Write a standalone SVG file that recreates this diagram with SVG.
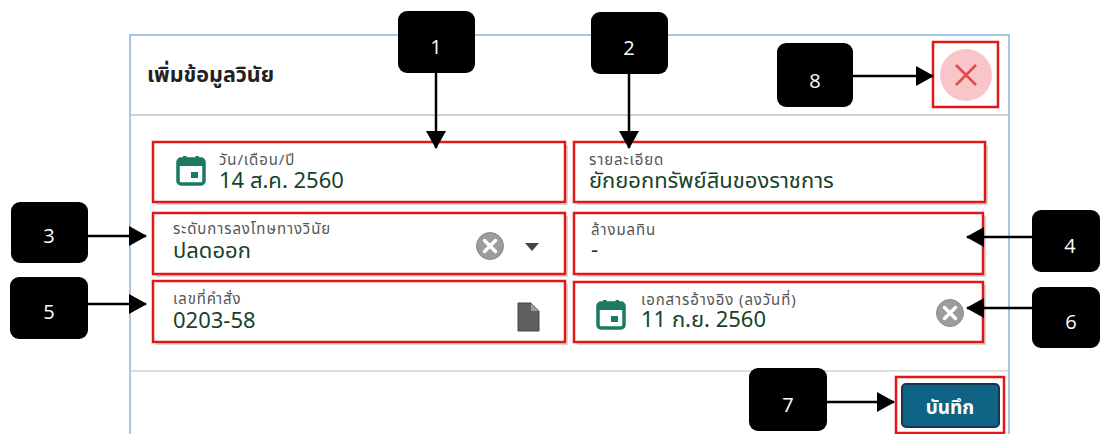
<svg xmlns="http://www.w3.org/2000/svg" width="1102" height="434" viewBox="0 0 1102 434">
<defs>
<style>
.badge{fill:#000}
.btxt{fill:#fff;font-family:"Open Sans","Liberation Sans","DejaVu Sans",sans-serif;font-size:20px;text-anchor:middle}
.field{fill:#fff;stroke:#e01818;stroke-width:2.5}
.shadow{fill:#d6d6d6}
.lbl{fill:#555;font-family:"Noto Sans Thai","Noto Sans","DejaVu Sans",sans-serif;font-size:15px;letter-spacing:0.9px}
.val{fill:#16432a;font-family:"Noto Sans Thai","Noto Sans","DejaVu Sans",sans-serif;font-size:22px}
.conn{stroke:#000;stroke-width:2.5;fill:none;marker-end:url(#ah)}
</style>
<marker id="ah" markerUnits="userSpaceOnUse" markerWidth="18" markerHeight="20" refX="17" refY="10" orient="auto">
<path d="M0,0 L18,10 L0,20 Z" fill="#000"/>
</marker>
<g id="calIcon">
<rect x="0" y="3" width="26" height="25" rx="3" fill="none" stroke="#1c7a62" stroke-width="3.5"/>
<rect x="0" y="3" width="26" height="7" fill="#1c7a62"/>
<rect x="5" y="0" width="3.5" height="6" fill="#1c7a62"/>
<rect x="17.5" y="0" width="3.5" height="6" fill="#1c7a62"/>
<rect x="13" y="16" width="7" height="6" fill="#1c7a62"/>
</g>
<g id="clrIcon">
<circle cx="0" cy="0" r="13.5" fill="#9c9c9c" stroke="#8a8a8a" stroke-width="1"/>
<path d="M-5.5,-5.5 L5.5,5.5 M5.5,-5.5 L-5.5,5.5" stroke="#fff" stroke-width="3.5" stroke-linecap="round"/>
</g>
</defs>
<rect width="1102" height="434" fill="#fff"/>

<g id="dialog">
<path d="M130,434 L130,35 L1009,35 L1009,434" fill="none" stroke="#8cb2da" stroke-width="1.5"/>
<line x1="131" y1="115" x2="1008" y2="115" stroke="#d0d0d0" stroke-width="2"/>
<line x1="131" y1="371" x2="1008" y2="371" stroke="#dedede" stroke-width="2"/>
<text x="147" y="82" font-family="'Noto Sans Thai','Noto Sans','DejaVu Sans',sans-serif" font-size="21.5" font-weight="bold" fill="#222">เพิ่มข้อมูลวินัย</text>
</g>

<g id="field1">
<rect class="shadow" x="156" y="145" width="412" height="60"/>
<rect class="field" x="153" y="142" width="412" height="60"/>
<use href="#calIcon" x="178" y="156"/>
<text class="lbl" x="219" y="165">วัน/เดือน/ปี</text>
<text class="val" x="219" y="188">14 ส.ค. 2560</text>
</g>

<g id="field2">
<rect class="shadow" x="577" y="145" width="411" height="60"/>
<rect class="field" x="574" y="142" width="411" height="60"/>
<text class="lbl" x="589" y="165">รายละเอียด</text>
<text class="val" x="589" y="188">ยักยอกทรัพย์สินของราชการ</text>
</g>

<g id="field3">
<rect class="shadow" x="156" y="216" width="412" height="61"/>
<rect class="field" x="153" y="213" width="412" height="61"/>
<text class="lbl" x="173" y="234">ระดับการลงโทษทางวินัย</text>
<text class="val" x="173" y="258">ปลดออก</text>
<use href="#clrIcon" x="490" y="246"/>
<path d="M525,243 L539,243 L532,251 Z" fill="#444"/>
</g>

<g id="field4">
<rect class="shadow" x="577" y="216" width="409" height="61"/>
<rect class="field" x="574" y="213" width="409" height="61"/>
<text class="lbl" x="591" y="235">ล้างมลทิน</text>
<text class="val" x="591" y="257">-</text>
</g>

<g id="field5">
<rect class="shadow" x="156" y="284" width="412" height="61"/>
<rect class="field" x="153" y="281" width="412" height="61"/>
<text class="lbl" x="173" y="304">เลขที่คำสั่ง</text>
<text class="val" x="173" y="328">0203-58</text>
<path d="M518,303 L531,303 L539,311 L539,331 L518,331 Z" fill="#5f5f5f" stroke="#444" stroke-width="1"/>
<path d="M531,303 L531,311 L539,311" fill="#9a9a9a"/>
</g>

<g id="field6">
<rect class="shadow" x="577" y="285" width="409" height="60"/>
<rect class="field" x="574" y="282" width="409" height="60"/>
<use href="#calIcon" x="598" y="300"/>
<text class="lbl" x="641" y="305">เอกสารอ้างอิง (ลงวันที่)</text>
<text class="val" x="641" y="327">11 ก.ย. 2560</text>
<use href="#clrIcon" x="950" y="313"/>
</g>

<g id="closeBtn">
<rect x="933" y="42" width="65" height="65" fill="none" stroke="#e01818" stroke-width="2.5"/>
<circle cx="966" cy="75" r="26" fill="#f8c6c9"/>
<path d="M956,65 L976,85 M976,65 L956,85" stroke="#e04a4a" stroke-width="2.5"/>
</g>

<g id="saveBtn">
<rect x="896" y="377" width="108" height="56" fill="none" stroke="#e01818" stroke-width="2.5"/>
<rect x="902" y="384" width="97" height="43" rx="4" fill="#0f6486" stroke="#17384a" stroke-width="2"/>
<text x="950" y="414" font-family="'Noto Sans Thai','Noto Sans','DejaVu Sans',sans-serif" font-size="19" font-weight="bold" fill="#fff" text-anchor="middle">บันทึก</text>
</g>

<g id="badge1"><rect class="badge" x="398" y="11" width="77" height="62" rx="9"/><text class="btxt" x="436" y="54">1</text></g>
<g id="badge2"><rect class="badge" x="591" y="12" width="77" height="62" rx="9"/><text class="btxt" x="629" y="55">2</text></g>
<g id="badge3"><rect class="badge" x="11" y="202" width="77" height="61" rx="9"/><text class="btxt" x="49" y="243">3</text></g>
<g id="badge4"><rect class="badge" x="1032" y="210" width="68" height="62" rx="9"/><text class="btxt" x="1070" y="253">4</text></g>
<g id="badge5"><rect class="badge" x="10" y="277" width="78" height="62" rx="9"/><text class="btxt" x="49" y="319">5</text></g>
<g id="badge6"><rect class="badge" x="1032" y="287" width="68" height="61" rx="9"/><text class="btxt" x="1071" y="329">6</text></g>
<g id="badge7"><rect class="badge" x="749" y="368" width="78" height="63" rx="9"/><text class="btxt" x="788" y="412">7</text></g>
<g id="badge8"><rect class="badge" x="777" y="43" width="76" height="64" rx="9"/><text class="btxt" x="815" y="88">8</text></g>

<g id="connectors">
<line class="conn" x1="436" y1="73" x2="436" y2="148"/>
<line class="conn" x1="629" y1="74" x2="629" y2="148"/>
<line class="conn" x1="853" y1="76" x2="933" y2="76"/>
<line class="conn" x1="88" y1="236" x2="146" y2="236"/>
<line class="conn" x1="88" y1="304" x2="146" y2="304"/>
<line class="conn" x1="1032" y1="237" x2="967" y2="237"/>
<line class="conn" x1="1032" y1="308" x2="967" y2="308"/>
<line class="conn" x1="827" y1="402" x2="894" y2="402"/>
</g>
</svg>
